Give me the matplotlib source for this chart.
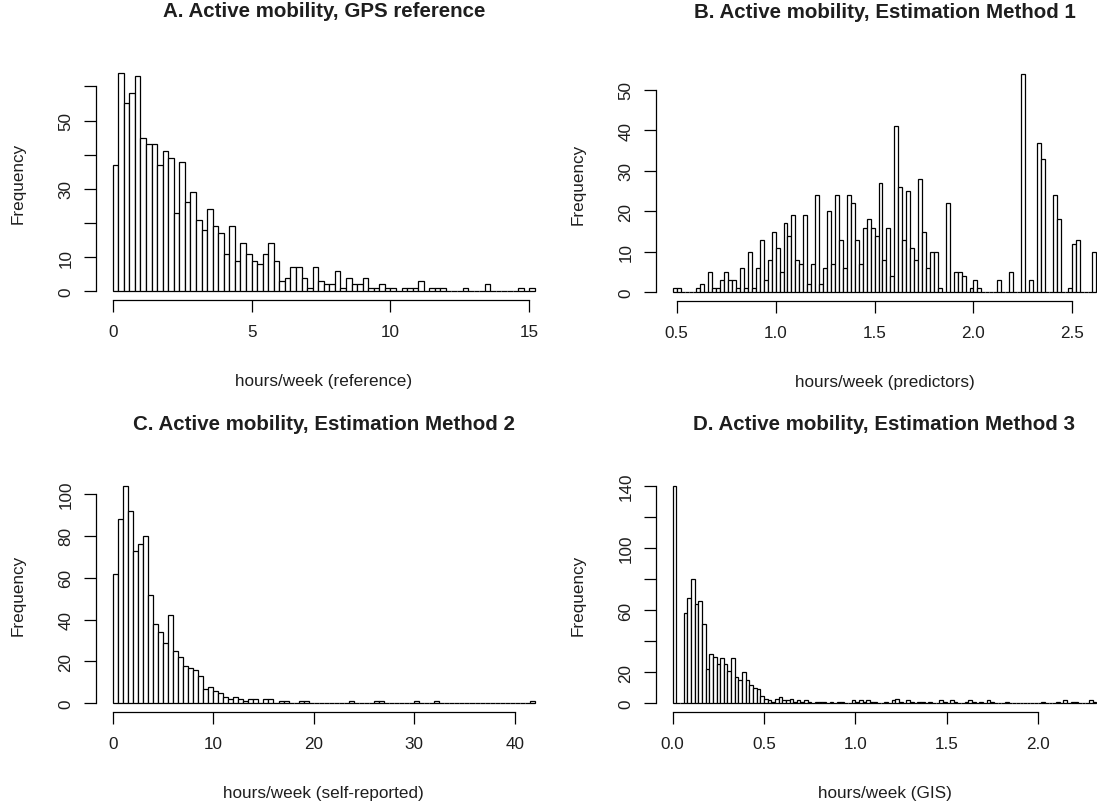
# Four histograms of active mobility (R base graphics look)

import matplotlib
matplotlib.use("Agg")
import matplotlib.pyplot as plt
import numpy as np

plt.rcParams["font.family"] = ["Liberation Sans", "DejaVu Sans"]

# counts per bin
gps_start, gps_width = 0.0, 0.2
gps_counts = [37, 64, 55, 58, 63, 45, 43, 43, 37, 41, 39, 23, 38, 26, 29, 21,
              18, 24, 19, 17, 11, 19, 9, 14, 11, 9, 8, 11, 14, 9, 3, 4, 7, 7,
              4, 1, 7, 3, 2, 2, 6, 1, 4, 2, 2, 4, 1, 1, 2, 1, 1, 0, 1, 1, 1,
              3, 0, 1, 1, 1, 0, 0, 0, 1, 0, 0, 0, 2, 0, 0, 0, 0, 0, 1, 0, 1]

m1_start, m1_width = 0.48, 0.02
m1_counts = [1, 1, 0, 0, 0, 0, 1, 2, 0, 5,
             1, 1, 3, 5, 3, 3, 1, 6, 1, 10,
             1, 6, 13, 3, 8, 15, 11, 5, 17, 14,
             19, 8, 7, 19, 2, 7, 24, 2, 6, 20,
             7, 24, 13, 6, 24, 22, 13, 7, 16, 18,
             16, 14, 27, 8, 16, 4, 41, 26, 13, 25,
             11, 8, 28, 15, 6, 10, 10, 1, 0, 22,
             0, 5, 5, 4, 0, 1, 3, 1, 0, 0,
             0, 0, 3, 0, 0, 5, 0, 0, 54, 0,
             3, 0, 37, 33, 0, 0, 24, 18, 0, 0,
             1, 12, 13, 0, 0, 0, 10]

m2_start, m2_width = 0.0, 0.5
m2_counts = [62, 88, 104, 92, 73, 76, 80, 52, 38, 34,
             29, 42, 25, 22, 18, 17, 16, 13, 7, 8,
             6, 5, 3, 2, 3, 2, 1, 2, 2, 0,
             2, 2, 0, 1, 1, 0, 0, 1, 1, 0,
             0, 0, 0, 0, 0, 0, 0, 1, 0, 0,
             0, 0, 1, 1, 0, 0, 0, 0, 0, 0,
             1, 0, 0, 0, 1, 0, 0, 0, 0, 0,
             0, 0, 0, 0, 0, 0, 0, 0, 0, 0,
             0, 0, 0, 1]

m3_start, m3_width = 0.0, 0.02
m3_counts = [140, 0, 0, 58, 68, 80, 64, 66, 51, 22,
             32, 30, 25, 29, 25, 21, 29, 17, 15, 20,
             15, 12, 10, 9, 5, 3, 2, 1, 3, 4,
             2, 2, 3, 1, 2, 1, 2, 1, 0, 1,
             1, 1, 0, 1, 0, 1, 1, 0, 0, 2,
             1, 2, 1, 2, 1, 1, 0, 0, 1, 0,
             2, 3, 1, 0, 2, 1, 0, 1, 1, 0,
             1, 0, 0, 2, 1, 0, 2, 1, 0, 0,
             1, 2, 1, 0, 1, 0, 2, 1, 0, 0,
             0, 1, 0, 0, 0, 0, 0, 0, 0, 0,
             0, 1, 0, 0, 0, 1, 0, 2, 0, 1,
             1, 0, 0, 0, 2, 1]

titles = ["A. Active mobility, GPS reference",
          "B. Active mobility, Estimation Method 1",
          "C. Active mobility, Estimation Method 2",
          "D. Active mobility, Estimation Method 3"]
xlabels = ["hours/week (reference)", "hours/week (predictors)",
           "hours/week (self-reported)", "hours/week (GIS)"]

gps_xticks = [0, 5, 10, 15]
m1_xticks = [0.5, 1.0, 1.5, 2.0, 2.5]
m2_xticks = [0, 10, 20, 30, 40]
m3_xticks = [0.0, 0.5, 1.0, 1.5, 2.0]
gps_yticks = [0, 10, 20, 30, 40, 50, 60]
gps_ylabels = ["0", "10", "", "30", "", "50", ""]
m1_yticks = [0, 10, 20, 30, 40, 50]
m2_yticks = [0, 20, 40, 60, 80, 100]
m3_yticks = [0, 20, 40, 60, 80, 100, 120, 140]
m3_ylabels = ["0", "20", "", "60", "", "100", "", "140"]

W, H = 1097, 803
TXT = "#1e1e1e"


def draw_hist(rect_px, start, width, counts, title, xlabel,
              xticks, xfmt, yticks, ylabels):
    x, y, w, h = rect_px
    ax = fig.add_axes([x / W, 1 - (y + h) / H, w / W, h / H])
    counts = np.asarray(counts)
    edges = start + width * np.arange(len(counts))
    ax.bar(edges, counts, width=width, align="edge", color="white",
           edgecolor="black", linewidth=0.9)

    rng = width * len(counts)
    ax.set_xlim(start - 0.04 * rng, start + rng + 0.04 * rng)
    top = counts.max()
    ax.set_ylim(-0.04 * top, 1.04 * top)

    ax.set_xticks(xticks)
    ax.set_xticklabels([xfmt.format(v) for v in xticks])
    ax.set_yticks(yticks)
    ax.set_yticklabels(ylabels if ylabels else [str(v) for v in yticks])
    plt.setp(ax.get_yticklabels(), rotation=90, va="center")

    for side in ["top", "right"]:
        ax.spines[side].set_visible(False)
    ax.spines["left"].set_bounds(yticks[0], yticks[-1])
    ax.spines["bottom"].set_bounds(xticks[0], xticks[-1])
    for side in ["left", "bottom"]:
        ax.spines[side].set_linewidth(0.9)

    ax.tick_params(direction="out", length=8.4, width=0.9,
                   labelsize=12.3, labelcolor=TXT)
    ax.tick_params(axis="x", pad=9)
    ax.tick_params(axis="y", pad=7.6)

    ax.set_xlabel(xlabel, fontsize=12.3, color=TXT, va="center")
    ax.xaxis.set_label_coords(0.5, -81 / h)
    ax.set_ylabel("Frequency", fontsize=12.3, color=TXT, va="center")
    ax.yaxis.set_label_coords(-78 / w, 0.5)
    ax.set_title(title, fontsize=14.8, fontweight="bold", color=TXT,
                 y=1 + 45 / h, va="center")
    return ax


fig = plt.figure(figsize=(W / 100, H / 100), dpi=100)

draw_hist((95.8, 65, 455.9, 236), gps_start, gps_width, gps_counts,
          titles[0], xlabels[0], gps_xticks, "{:g}", gps_yticks, gps_ylabels)
draw_hist((655.8, 66, 457.3, 236), m1_start, m1_width, m1_counts,
          titles[1], xlabels[1], m1_xticks, "{:.1f}", m1_yticks, None)
draw_hist((95.8, 478, 455.9, 235), m2_start, m2_width, m2_counts,
          titles[2], xlabels[2], m2_xticks, "{:g}", m2_yticks, None)
draw_hist((655.8, 478, 457.3, 235), m3_start, m3_width, m3_counts,
          titles[3], xlabels[3], m3_xticks, "{:.1f}", m3_yticks, m3_ylabels)

fig.savefig("out.png", dpi=100)
